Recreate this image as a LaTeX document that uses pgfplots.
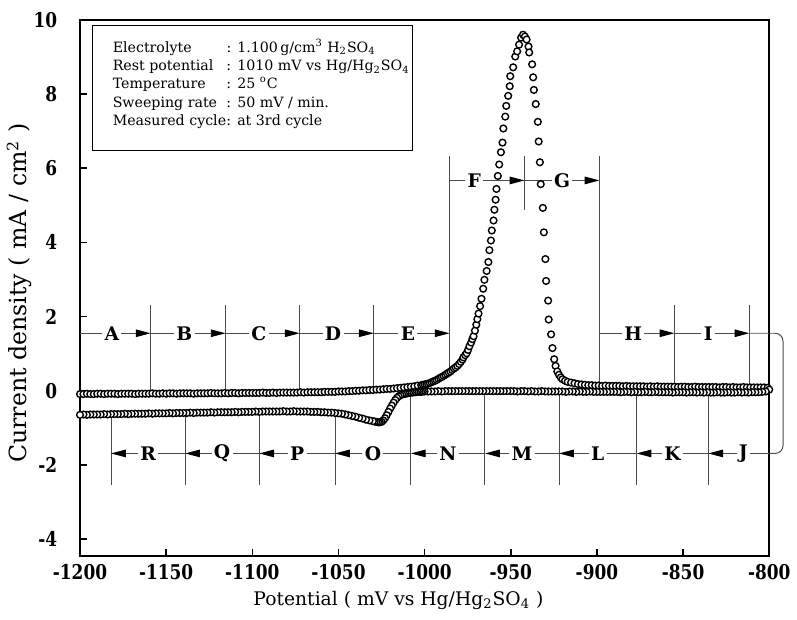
\documentclass[border=0pt]{standalone}
\usepackage{fontspec}
\setmainfont{DejaVu Serif}
\usepackage{graphicx}
\usepackage{pgfplots}
\pgfplotsset{compat=1.18}
\usetikzlibrary{arrows.meta}

\begin{document}
\begin{tikzpicture}[
  seg/.style={draw=black!70,line width=0.5bp},
  arr/.style={seg,-{Triangle[length=7.5bp,width=3.8bp,black]}},
  lab/.style={fill=white,inner sep=1.2bp,font=\fontsize{9.5}{11}\selectfont\bfseries}]
\begin{axis}[
  scale only axis,width=348.5bp,height=271bp,
  xmin=-1200,xmax=-800,ymin=-4.45,ymax=10,
  xtick={-1200,-1150,...,-800},ytick={-4,-2,...,10},
  xtick pos=bottom,ytick pos=left,tick align=inside,
  major tick length=3.5bp,tick style={line width=0.8bp,black},
  axis line style={line width=1.2bp},
  /pgf/number format/assume math mode=true,/pgf/number format/1000 sep={},
  tick label style={font=\fontsize{8.6}{10}\selectfont\bfseries},
  xticklabel={\scalebox{1}[1.2]{\pgfmathprintnumber{\tick}}},
  yticklabel={\scalebox{1}[1.2]{\pgfmathprintnumber{\tick}}},
  yticklabel style={xshift=-8bp},
  xticklabel style={yshift=-1bp},
  xlabel={Potential ( mV vs Hg/Hg\textsubscript{2}SO\textsubscript{4} )},
  ylabel={Current density ( mA / cm\textsuperscript{2} )},
  xlabel style={font=\fontsize{9.5}{11}\selectfont,at={(axis description cs:0.462,-0.083)},anchor=center},
  ylabel style={font=\fontsize{12}{14}\selectfont,at={(axis description cs:-0.088,0.49)},anchor=center},
  clip=false]

% conditions box
\draw[line width=0.5bp] (-1192.7,6.49) rectangle (-1007.2,9.84);
\node[anchor=north west,inner sep=0pt,font=\fontsize{7.2}{9.35}\selectfont] at (-1181.2,9.5) {%
\begin{tabular}{@{}l@{}l@{}}
\makebox[57.5bp][l]{Electrolyte} & : 1.100\,g/cm\textsuperscript{3} H\textsubscript{2}SO\textsubscript{4}\\
\makebox[57.5bp][l]{Rest potential} & : 1010 mV vs Hg/Hg\textsubscript{2}SO\textsubscript{4}\\
\makebox[57.5bp][l]{Temperature} & : 25 \textsuperscript{o}C\\
\makebox[57.5bp][l]{Sweeping rate} & : 50 mV / min.\\
\makebox[55.5bp][l]{Measured cycle}& : at 3rd cycle
\end{tabular}};

% region boundaries, anodic sweep
\draw[seg] (-1159,2.32) -- (-1159,0.02);
\draw[seg] (-1115.5,2.32) -- (-1115.5,0.03);
\draw[seg] (-1072.5,2.32) -- (-1072.5,0.03);
\draw[seg] (-1029.5,2.32) -- (-1029.5,0.08);
\draw[seg] (-985.5,6.32) -- (-985.5,0.5);
\draw[seg] (-942,6.32) -- (-942,4.88);
\draw[seg] (-898.5,6.32) -- (-898.5,0.15);
\draw[seg] (-855,2.32) -- (-855,0.12);
\draw[seg] (-811.5,2.32) -- (-811.5,0.12);
% region boundaries, cathodic sweep
\draw[seg] (-835.4,-0.08) -- (-835.4,-2.53);
\draw[seg] (-877,-0.08) -- (-877,-2.53);
\draw[seg] (-922,-0.06) -- (-922,-2.53);
\draw[seg] (-965,-0.06) -- (-965,-2.53);
\draw[seg] (-1008,-0.1) -- (-1008,-2.53);
\draw[seg] (-1052,-0.66) -- (-1052,-2.53);
\draw[seg] (-1096,-0.62) -- (-1096,-2.53);
\draw[seg] (-1139,-0.65) -- (-1139,-2.53);
\draw[seg] (-1182,-0.68) -- (-1182,-2.53);

\draw[arr] (-1200,1.55) -- node[lab,pos=0.45]{A} (-1159,1.55);
\draw[arr] (-1159,1.55) -- node[lab,pos=0.45]{B} (-1115.5,1.55);
\draw[arr] (-1115.5,1.55) -- node[lab,pos=0.45]{C} (-1072.5,1.55);
\draw[arr] (-1072.5,1.55) -- node[lab,pos=0.45]{D} (-1029.5,1.55);
\draw[arr] (-1029.5,1.55) -- node[lab,pos=0.45]{E} (-985.5,1.55);
\draw[arr] (-985.5,5.67) -- node[lab,pos=0.33]{F} (-942,5.67);
\draw[arr] (-942,5.67) -- node[lab,pos=0.5]{G} (-898.5,5.67);
\draw[arr] (-898.5,1.55) -- node[lab,pos=0.45]{H} (-855,1.55);
\draw[arr] (-855,1.55) -- node[lab,pos=0.45]{I} (-811.5,1.55);
\draw[seg,rounded corners=4bp] (-811.5,1.55) -- (-792,1.55) -- (-792,-1.69) -- (-800,-1.69);
\draw[arr] (-800,-1.69) -- (-835.4,-1.69);
\node[lab] at (-815,-1.69) {J};
\draw[arr] (-835.4,-1.69) -- node[lab]{K} (-877,-1.69);
\draw[arr] (-877,-1.69) -- node[lab]{L} (-922,-1.69);
\draw[arr] (-922,-1.69) -- node[lab]{M} (-965,-1.69);
\draw[arr] (-965,-1.69) -- node[lab]{N} (-1008,-1.69);
\draw[arr] (-1008,-1.69) -- node[lab]{O} (-1052,-1.69);
\draw[arr] (-1052,-1.69) -- node[lab]{P} (-1096,-1.69);
\draw[arr] (-1096,-1.69) -- node[lab]{Q} (-1139,-1.69);
\draw[arr] (-1139,-1.69) -- node[lab]{R} (-1182,-1.69);

% anodic sweep
\addplot[only marks,mark=*,mark size=1.7bp,mark options={fill=white,draw=black,line width=0.7bp}] coordinates {
(-1200,-0.09) (-1198,-0.09) (-1196,-0.08) (-1194,-0.09) (-1192,-0.09) (-1190,-0.08) (-1188,-0.08) (-1186,-0.09) (-1184,-0.08) (-1182,-0.08)
(-1180,-0.08) (-1178,-0.09) (-1176,-0.08) (-1174,-0.08) (-1172,-0.08) (-1170,-0.08) (-1168,-0.09) (-1166,-0.08) (-1164,-0.08) (-1162,-0.08)
(-1160,-0.08) (-1158,-0.07) (-1156,-0.08) (-1154,-0.08) (-1152,-0.07) (-1150,-0.08) (-1148,-0.07) (-1146,-0.07) (-1144,-0.08) (-1142,-0.07)
(-1140,-0.07) (-1138,-0.07) (-1136,-0.07) (-1134,-0.08) (-1132,-0.07) (-1130,-0.07) (-1128,-0.07) (-1126,-0.07) (-1124,-0.06) (-1122,-0.07)
(-1120,-0.07) (-1118,-0.07) (-1116,-0.06) (-1114,-0.07) (-1112,-0.06) (-1110,-0.06) (-1108,-0.07) (-1106,-0.06) (-1104,-0.06) (-1102,-0.06)
(-1100,-0.06) (-1098,-0.06) (-1096,-0.06) (-1094,-0.05) (-1092,-0.06) (-1090,-0.06) (-1088,-0.05) (-1086,-0.06) (-1084,-0.05) (-1082,-0.05)
(-1080,-0.05) (-1078,-0.05) (-1076,-0.05) (-1074,-0.05) (-1072,-0.04) (-1070,-0.05) (-1068,-0.04) (-1066,-0.04) (-1064,-0.04) (-1062,-0.04)
(-1060,-0.04) (-1058,-0.03) (-1056,-0.03) (-1054,-0.03) (-1052,-0.03) (-1050,-0.02) (-1048,-0.02) (-1046,-0.02) (-1044,-0.01) (-1042,-0.01)
(-1040,0.00) (-1038,0.00) (-1036,0.01) (-1034,0.01) (-1032,0.02) (-1030,0.02) (-1028,0.03) (-1026,0.03) (-1024,0.04) (-1022,0.05)
(-1020,0.05) (-1018,0.06) (-1016,0.07) (-1014,0.08) (-1012,0.09) (-1010,0.10) (-1008,0.11) (-1006,0.12) (-1004,0.14) (-1002,0.15)
(-1001,0.16) (-1000,0.17) (-999,0.18) (-998,0.19) (-997,0.21) (-996,0.23) (-995,0.25) (-994,0.27) (-993,0.29) (-992,0.32)
(-991,0.35) (-990,0.37) (-989,0.40) (-988,0.43) (-987,0.46) (-986,0.49) (-985,0.52) (-984,0.56) (-983,0.60) (-982,0.63)
(-981,0.67) (-980,0.72) (-979,0.78) (-978,0.84) (-977.5,0.90) (-976.5,0.96) (-975.6,1.01) (-974.8,1.10) (-974,1.20) (-973,1.30)
(-972.3,1.39) (-971.6,1.47) (-970.8,1.62) (-970,1.78) (-969.4,1.93) (-968.7,2.08) (-967.8,2.28) (-967,2.48) (-966,2.75) (-965.3,2.99)
(-964,3.23) (-963,3.47) (-962.4,3.79) (-961.5,4.05) (-961,4.32) (-960,4.59) (-959.5,4.88) (-958.8,5.15) (-958.3,5.44) (-957.5,5.79)
(-956.7,6.10) (-955.7,6.43) (-954.8,6.69) (-954.3,7.07) (-953.2,7.39) (-952.6,7.68) (-951.5,7.95) (-950.6,8.21) (-950.3,8.48) (-948.6,8.72)
(-947.4,9.01) (-946.3,9.15) (-945.2,9.33) (-944,9.52) (-942.9,9.60) (-941.8,9.55) (-940.8,9.47) (-939.7,9.28) (-939.3,9.12) (-937.6,8.80)
(-937,8.45) (-936.6,8.11) (-935.5,7.73) (-934.3,7.25) (-933.8,6.72) (-933.1,6.16) (-932.6,5.57) (-931.4,4.93) (-930.8,4.27) (-929.9,3.55)
(-929.5,2.96) (-928.3,2.43) (-928,1.92) (-926.6,1.52) (-925.8,1.15) (-924.8,0.85) (-924,0.67) (-923,0.52) (-922,0.43) (-921,0.36)
(-920,0.31) (-918.5,0.27) (-917,0.24) (-915,0.22) (-913,0.20) (-911,0.18) (-909,0.17) (-907,0.16) (-905,0.15) (-903,0.15) (-901,0.14)
(-899,0.14) (-897,0.13) (-895,0.14) (-893,0.13) (-891,0.13) (-889,0.13) (-887,0.13) (-885,0.12) (-883,0.13) (-881,0.12)
(-879,0.12) (-877,0.12) (-875,0.12) (-873,0.12) (-871,0.11) (-869,0.12) (-867,0.11) (-865,0.12) (-863,0.11) (-861,0.11)
(-859,0.11) (-857,0.11) (-855,0.11) (-853,0.10) (-851,0.11) (-849,0.11) (-847,0.10) (-845,0.10) (-843,0.11) (-841,0.10)
(-839,0.10) (-837,0.10) (-835,0.10) (-833,0.10) (-831,0.10) (-829,0.09) (-827,0.10) (-825,0.10) (-823,0.09) (-821,0.10)
(-819,0.09) (-817,0.09) (-815,0.10) (-813,0.09) (-811,0.09) (-809,0.09) (-807,0.09) (-805,0.09) (-803,0.09) (-801,0.08)
};
% cathodic sweep
\addplot[only marks,mark=*,mark size=1.7bp,mark options={fill=white,draw=black,line width=0.7bp}] coordinates {
(-800,0.03) (-802,-0.02) (-804,-0.03) (-806,-0.04) (-808,-0.04) (-810,-0.04) (-812,-0.05) (-814,-0.04) (-816,-0.05) (-818,-0.04)
(-820,-0.05) (-822,-0.05) (-824,-0.04) (-826,-0.05) (-828,-0.05) (-830,-0.04) (-832,-0.05) (-834,-0.05) (-836,-0.04) (-838,-0.05)
(-840,-0.04) (-842,-0.05) (-844,-0.04) (-846,-0.04) (-848,-0.05) (-850,-0.04) (-852,-0.04) (-854,-0.04) (-856,-0.05) (-858,-0.04)
(-860,-0.04) (-862,-0.04) (-864,-0.04) (-866,-0.03) (-868,-0.04) (-870,-0.04) (-872,-0.03) (-874,-0.04) (-876,-0.04) (-878,-0.03)
(-880,-0.04) (-882,-0.03) (-884,-0.03) (-886,-0.04) (-888,-0.03) (-890,-0.03) (-892,-0.03) (-894,-0.03) (-896,-0.03) (-898,-0.03)
(-900,-0.03) (-902,-0.03) (-904,-0.02) (-906,-0.03) (-908,-0.03) (-910,-0.02) (-912,-0.03) (-914,-0.02) (-916,-0.02) (-918,-0.03)
(-920,-0.02) (-922,-0.02) (-924,-0.02) (-926,-0.02) (-928,-0.02) (-930,-0.02) (-932,-0.01) (-934,-0.02) (-936,-0.02) (-938,-0.01)
(-940,-0.02) (-942,-0.01) (-944,-0.01) (-946,-0.02) (-948,-0.01) (-950,-0.01) (-952,-0.01) (-954,-0.01) (-956,-0.01) (-958,-0.01)
(-960,-0.01) (-962,-0.01) (-964,-0.01) (-966,-0.01) (-968,-0.01) (-970,-0.01) (-972,-0.01) (-974,-0.01) (-976,-0.01) (-978,-0.01)
(-980,-0.01) (-982,-0.01) (-984,-0.01) (-986,-0.01) (-988,-0.01) (-990,-0.02) (-992,-0.01) (-994,-0.02) (-996,-0.02) (-998,-0.02)
(-1000,-0.02) (-1001,-0.02) (-1002,-0.03) (-1003,-0.03) (-1004,-0.03) (-1005,-0.04) (-1006,-0.04) (-1007,-0.05) (-1008,-0.05) (-1009,-0.06)
(-1010,-0.07) (-1011,-0.08) (-1012,-0.09) (-1013,-0.10) (-1014,-0.12) (-1015,-0.15) (-1016,-0.19) (-1017,-0.25) (-1018,-0.32) (-1019,-0.40)
(-1020,-0.48) (-1021,-0.57) (-1022,-0.66) (-1023,-0.74) (-1024,-0.80) (-1025,-0.84) (-1026,-0.85) (-1027,-0.85) (-1028,-0.84) (-1029,-0.83)
(-1030,-0.82) (-1032,-0.80) (-1034,-0.78) (-1036,-0.75) (-1038,-0.73) (-1040,-0.70) (-1042,-0.68) (-1044,-0.66) (-1046,-0.64) (-1048,-0.62)
(-1050,-0.61) (-1052,-0.60) (-1054,-0.59) (-1056,-0.59) (-1058,-0.58) (-1060,-0.58) (-1062,-0.57) (-1064,-0.57) (-1066,-0.57) (-1068,-0.56)
(-1070,-0.56) (-1072,-0.56) (-1074,-0.56) (-1076,-0.55) (-1078,-0.56) (-1080,-0.56) (-1082,-0.55) (-1084,-0.56) (-1086,-0.56) (-1088,-0.56)
(-1090,-0.56) (-1092,-0.56) (-1094,-0.56) (-1096,-0.57) (-1098,-0.56) (-1100,-0.57) (-1102,-0.57) (-1104,-0.57) (-1106,-0.57) (-1108,-0.58)
(-1110,-0.57) (-1112,-0.58) (-1114,-0.58) (-1116,-0.58) (-1118,-0.58) (-1120,-0.58) (-1122,-0.59) (-1124,-0.58) (-1126,-0.59) (-1128,-0.59)
(-1130,-0.59) (-1132,-0.59) (-1134,-0.60) (-1136,-0.59) (-1138,-0.60) (-1140,-0.60) (-1142,-0.60) (-1144,-0.60) (-1146,-0.61) (-1148,-0.60)
(-1150,-0.61) (-1152,-0.61) (-1154,-0.61) (-1156,-0.61) (-1158,-0.62) (-1160,-0.61) (-1162,-0.62) (-1164,-0.62) (-1166,-0.62) (-1168,-0.62)
(-1170,-0.62) (-1172,-0.63) (-1174,-0.62) (-1176,-0.63) (-1178,-0.63) (-1180,-0.63) (-1182,-0.63) (-1184,-0.64) (-1186,-0.63) (-1188,-0.64)
(-1190,-0.64) (-1192,-0.64) (-1194,-0.64) (-1196,-0.65) (-1198,-0.64) (-1200,-0.65)
};
\path (axis description cs:-0.1133,-0.118) (axis description cs:1.03,1.037);
\end{axis}
\end{tikzpicture}
\end{document}
